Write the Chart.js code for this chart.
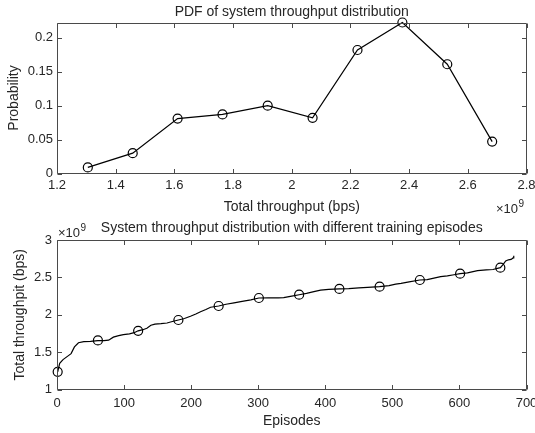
<!DOCTYPE html>
<html>
<head>
<meta charset="utf-8">
<script src="https://cdn.jsdelivr.net/npm/chart.js@4.4.0/dist/chart.umd.min.js"></script>
<style>
  html, body { margin: 0; padding: 0; background: #fff; }
  body { width: 535px; height: 433px; position: relative; overflow: hidden; }
  canvas { position: absolute; left: 0; }
  #pdfChart { top: 0; }
  #trainChart { top: 220px; }
</style>
</head>
<body>
<canvas id="pdfChart" width="535" height="220"></canvas>
<canvas id="trainChart" width="535" height="213"></canvas>
<script>
// ---- values (throughput in units of 1e9 bps) ----

// top: PDF of system throughput
const pdfThroughput = [1.305, 1.458, 1.611, 1.764, 1.918, 2.071, 2.224, 2.377, 2.530, 2.683];
const pdfProbability = [0.009, 0.030, 0.081, 0.087, 0.100, 0.082, 0.182, 0.2225, 0.161, 0.047];
const pdfXTicks = [1.2, 1.4, 1.6, 1.8, 2, 2.2, 2.4, 2.6, 2.8];
const pdfYTicks = [0, 0.05, 0.1, 0.15, 0.2];

// bottom: throughput vs training episodes
const curveEpisodes = [1, 4, 9, 15, 21, 26, 32, 40, 50, 61, 70, 77, 84, 92, 99, 108, 115, 121, 128, 134,
  140, 146, 155, 164, 172, 181, 190, 199, 207, 214, 222, 229, 241, 252, 264, 276, 289, 301, 315, 330,
  338, 350, 361, 372, 383, 393, 405, 421, 435, 450, 463, 481, 495, 505, 513, 525, 541, 552, 562, 572,
  582, 592, 601, 612, 627, 640, 650, 661, 665, 669, 673, 677, 680, 681];
const curveThroughput = [1.236, 1.35, 1.40, 1.44, 1.48, 1.57, 1.625, 1.64, 1.645, 1.655, 1.655, 1.66, 1.70, 1.72, 1.735, 1.745, 1.76, 1.785, 1.80, 1.82,
  1.86, 1.875, 1.88, 1.89, 1.91, 1.93, 1.95, 1.98, 2.01, 2.04, 2.07, 2.10, 2.117, 2.14, 2.16, 2.18, 2.20, 2.224, 2.225, 2.225,
  2.23, 2.25, 2.268, 2.285, 2.31, 2.33, 2.34, 2.345, 2.35, 2.36, 2.367, 2.375, 2.39, 2.41, 2.42, 2.44, 2.465, 2.47, 2.49, 2.51,
  2.52, 2.535, 2.55, 2.56, 2.59, 2.60, 2.605, 2.63, 2.67, 2.72, 2.735, 2.74, 2.76, 2.79];
const markerEpisodes = [1, 61, 121, 181, 241, 301, 361, 421, 481, 541, 601, 661];
const markerThroughput = [1.236, 1.657, 1.785, 1.93, 2.117, 2.224, 2.268, 2.345, 2.375, 2.465, 2.55, 2.63];
const episodeTicks = [0, 100, 200, 300, 400, 500, 600, 700];
const throughputTicks = [1, 1.5, 2, 2.5, 3];

// ---- styling ----
const FONT = "'Liberation Sans', Arial, Helvetica, sans-serif";
const TEXT = '#262626';
const AXIS = '#4a4a4a';
const TICK_LEN = 4.5;

Chart.defaults.font.family = FONT;
Chart.defaults.color = TEXT;

const fmt = v => String(parseFloat((+v).toFixed(2)));

// matlab-ish box with inward ticks, plus the x10^9 exponent label
const matlabAxes = {
  id: 'matlabAxes',
  afterDatasetsDraw(chart, args, opts) {
    const { ctx, chartArea: a, scales: { x, y } } = chart;
    const L = Math.round(a.left) + 0.5, R = Math.round(a.right) - 0.5;
    const T = Math.round(a.top) + 0.5, B = Math.round(a.bottom) - 0.5;
    ctx.save();
    ctx.strokeStyle = AXIS;
    ctx.lineWidth = 1;
    ctx.beginPath();
    ctx.rect(L, T, R - L, B - T);
    x.ticks.forEach(t => {
      const px = Math.round(x.getPixelForValue(t.value)) + 0.5;
      ctx.moveTo(px, B); ctx.lineTo(px, B - TICK_LEN);
      ctx.moveTo(px, T); ctx.lineTo(px, T + TICK_LEN);
    });
    y.ticks.forEach(t => {
      const py = Math.round(y.getPixelForValue(t.value)) + 0.5;
      ctx.moveTo(L, py); ctx.lineTo(L + TICK_LEN, py);
      ctx.moveTo(R, py); ctx.lineTo(R - TICK_LEN, py);
    });
    ctx.stroke();
    if (opts.exponent) {
      const e = opts.exponent;
      ctx.fillStyle = TEXT;
      ctx.textAlign = 'left';
      ctx.textBaseline = 'alphabetic';
      ctx.font = '13px ' + FONT;
      ctx.fillText('×10', e.x, e.y);
      const w = ctx.measureText('×10').width;
      ctx.font = '10px ' + FONT;
      ctx.fillText('9', e.x + w + 0.5, e.y - 6);
    }
    ctx.restore();
  }
};

function xScale(min, max, ticks, height, tickPad, title, titlePad) {
  return {
    type: 'linear', min, max,
    afterBuildTicks: s => { s.ticks = ticks.map(v => ({ value: v })); },
    afterFit: s => { s.height = height; s.paddingLeft = 0; s.paddingRight = 0; },
    grid: { display: false, drawTicks: false },
    border: { display: false },
    ticks: { padding: tickPad, autoSkip: false, maxRotation: 0, font: { size: 13 }, color: TEXT, callback: fmt },
    title: { display: true, text: title, color: TEXT, font: { size: 14, lineHeight: 1 }, padding: { top: 0, bottom: titlePad } }
  };
}

function yScale(min, max, ticks, tickPad, title, titlePad) {
  return {
    type: 'linear', min, max,
    afterBuildTicks: s => { s.ticks = ticks.map(v => ({ value: v })); },
    afterFit: s => { s.width = 57; s.paddingTop = 0; s.paddingBottom = 0; },
    grid: { display: false, drawTicks: false },
    border: { display: false },
    ticks: { padding: tickPad, autoSkip: false, font: { size: 13 }, color: TEXT, callback: fmt },
    title: { display: true, text: title, color: TEXT, font: { size: 14, lineHeight: 1 }, padding: { top: titlePad, bottom: 0 } }
  };
}

const circleMarker = {
  pointStyle: 'circle',
  pointRadius: 4.5,
  pointBorderWidth: 1.2,
  pointBorderColor: '#000',
  pointBackgroundColor: 'rgba(0,0,0,0)',
  pointHoverRadius: 4.5
};

// ---- top chart ----
new Chart(document.getElementById('pdfChart'), {
  type: 'line',
  data: {
    datasets: [{
      data: pdfThroughput.map((x, i) => ({ x, y: pdfProbability[i] })),
      borderColor: '#000',
      borderWidth: 1.2,
      tension: 0,
      clip: false,
      ...circleMarker
    }]
  },
  options: {
    responsive: false,
    animation: false,
    devicePixelRatio: 1,
    events: [],
    layout: { padding: { left: 0, right: 8.5, top: 0, bottom: 0 } },
    plugins: {
      legend: { display: false },
      tooltip: { enabled: false },
      title: {
        display: true, fullSize: false,
        text: 'PDF of system throughput distribution',
        color: TEXT, font: { size: 14, weight: 'normal', lineHeight: 1 },
        padding: { top: 5.5, bottom: 3 }
      },
      matlabAxes: { exponent: { x: 496, y: 212.5 } }
    },
    scales: {
      x: xScale(1.2, 2.8, pdfXTicks, 46.5, 4.2, 'Total throughput (bps)', 6),
      y: yScale(0, 0.2225, pdfYTicks, 4, 'Probability', 7.5)
    }
  },
  plugins: [matlabAxes]
});

// ---- bottom chart ----
new Chart(document.getElementById('trainChart'), {
  type: 'line',
  data: {
    datasets: [{
      data: curveEpisodes.map((x, i) => ({ x, y: curveThroughput[i] })),
      borderColor: '#000',
      borderWidth: 1.2,
      pointRadius: 0,
      tension: 0,
      clip: false
    }, {
      data: markerEpisodes.map((x, i) => ({ x, y: markerThroughput[i] })),
      showLine: false,
      clip: false,
      ...circleMarker
    }]
  },
  options: {
    responsive: false,
    animation: false,
    devicePixelRatio: 1,
    events: [],
    layout: { padding: { left: 0, right: 8.5, top: 0, bottom: 0 } },
    plugins: {
      legend: { display: false },
      tooltip: { enabled: false },
      title: {
        display: true, fullSize: false,
        text: 'System throughput distribution with different training episodes',
        color: TEXT, font: { size: 14, weight: 'normal', lineHeight: 1 },
        padding: { top: 1.5, bottom: 4.5 }
      },
      matlabAxes: { exponent: { x: 58, y: 16.5 } }
    },
    scales: {
      x: xScale(0, 700, episodeTicks, 43.5, 6, 'Episodes', 4.8),
      y: yScale(1, 3, throughputTicks, 5, 'Total throughpit (bps)', 13.5)
    }
  },
  plugins: [matlabAxes]
});
</script>
</body>
</html>
